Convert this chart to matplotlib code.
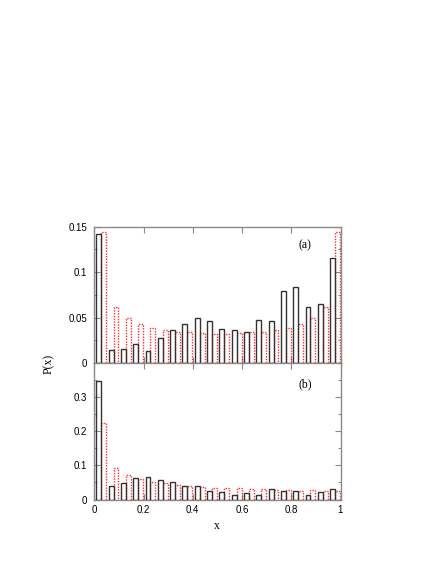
import numpy as np
import matplotlib
matplotlib.use("Agg")
import matplotlib.pyplot as plt
from matplotlib.ticker import MultipleLocator

# Histogram data: 20 bins of width 0.05 on [0, 1]
bin_width = 0.05
bin_starts = [i * 0.05 for i in range(20)]

# Panel (a)
a_black = [0.142, 0.014, 0.015, 0.021, 0.013, 0.027, 0.036, 0.043, 0.050, 0.046,
           0.037, 0.036, 0.034, 0.047, 0.046, 0.079, 0.083, 0.062, 0.065, 0.115]
a_red = [0.144, 0.061, 0.049, 0.043, 0.039, 0.036, 0.034, 0.034, 0.033, 0.032,
         0.032, 0.033, 0.034, 0.034, 0.036, 0.038, 0.043, 0.049, 0.062, 0.144]

# Panel (b)
b_black = [0.346, 0.041, 0.047, 0.062, 0.066, 0.056, 0.052, 0.039, 0.039, 0.025,
           0.022, 0.012, 0.018, 0.013, 0.032, 0.025, 0.025, 0.013, 0.021, 0.030]
b_red = [0.224, 0.091, 0.071, 0.059, 0.052, 0.047, 0.043, 0.041, 0.038, 0.035,
         0.034, 0.033, 0.031, 0.030, 0.029, 0.027, 0.025, 0.027, 0.026, 0.024]

x_ticks = [0, 0.2, 0.4, 0.6, 0.8, 1]
x_ticklabels = ["0", "0.2", "0.4", "0.6", "0.8", "1"]
a_yticks = [0, 0.05, 0.1, 0.15]
a_yticklabels = ["0", "0.05", "0.1", "0.15"]
b_yticks = [0, 0.1, 0.2, 0.3]
b_yticklabels = ["0", "0.1", "0.2", "0.3"]

W, H = 436, 564
fig = plt.figure(figsize=(W / 100, H / 100), dpi=100)

left = 94.3 / W
right = 340.5 / W
top_a = 1 - 226.5 / H
mid = 1 - 363.0 / H
bot_b = 1 - 499.5 / H

ax_a = fig.add_axes([left, mid, right - left, top_a - mid])
ax_b = fig.add_axes([left, bot_b, right - left, mid - bot_b])

frame_color = "#8a8a8a"
black_col = "#333333"
red_col = "#ff2a2a"
sans = ["Liberation Sans", "DejaVu Sans"]
serif = ["Liberation Serif", "DejaVu Serif"]

bw = 0.02
off_black = 0.008
off_red = 0.028


def draw(ax, blk, red, ylim, yt, ytl, minor, show_x):
    xs = np.array(bin_starts)
    ax.bar(xs + off_black, blk, width=bw, align="edge", fill=False,
           edgecolor=black_col, linewidth=1.0, zorder=3)
    ax.bar(xs + off_red, red, width=bw, align="edge", fill=False,
           edgecolor=red_col, linewidth=1.0, linestyle=(0, (1, 1)), zorder=2)
    ax.set_xlim(0, 1)
    ax.set_ylim(*ylim)
    ax.set_yticks(yt)
    ax.set_yticklabels(ytl, fontfamily=sans, fontsize=7)
    ax.yaxis.set_minor_locator(MultipleLocator(minor))
    ax.set_xticks(x_ticks)
    if show_x:
        ax.set_xticklabels(x_ticklabels, fontfamily=sans, fontsize=7)
    else:
        ax.set_xticklabels([])
    ax.tick_params(axis="both", which="both", direction="in", top=True, right=True,
                   color=frame_color, width=0.8)
    ax.tick_params(axis="both", which="major", length=4)
    ax.tick_params(axis="both", which="minor", length=2.5)
    ax.tick_params(axis="y", which="major", pad=5)
    ax.tick_params(axis="x", which="major", pad=4)
    for s in ax.spines.values():
        s.set_color(frame_color)
        s.set_linewidth(1.0)


draw(ax_a, a_black, a_red, (0, 0.15), a_yticks, a_yticklabels, 0.025, False)
draw(ax_b, b_black, b_red, (0, 0.4), b_yticks, b_yticklabels, 0.05, True)

fig.text(305 / W, 1 - 245 / H, "(a)", fontfamily=serif, fontsize=8.5,
         ha="center", va="center")
fig.text(305 / W, 1 - 384 / H, "(b)", fontfamily=serif, fontsize=8.5,
         ha="center", va="center")
fig.text(49 / W, 1 - 364 / H, "P(x)", rotation=90, fontfamily=serif, fontsize=8.5,
         ha="center", va="center")
fig.text(217 / W, 1 - 526 / H, "x", fontfamily=serif, fontsize=8.5,
         ha="center", va="center")

fig.savefig("out.png", dpi=100, facecolor="white")
